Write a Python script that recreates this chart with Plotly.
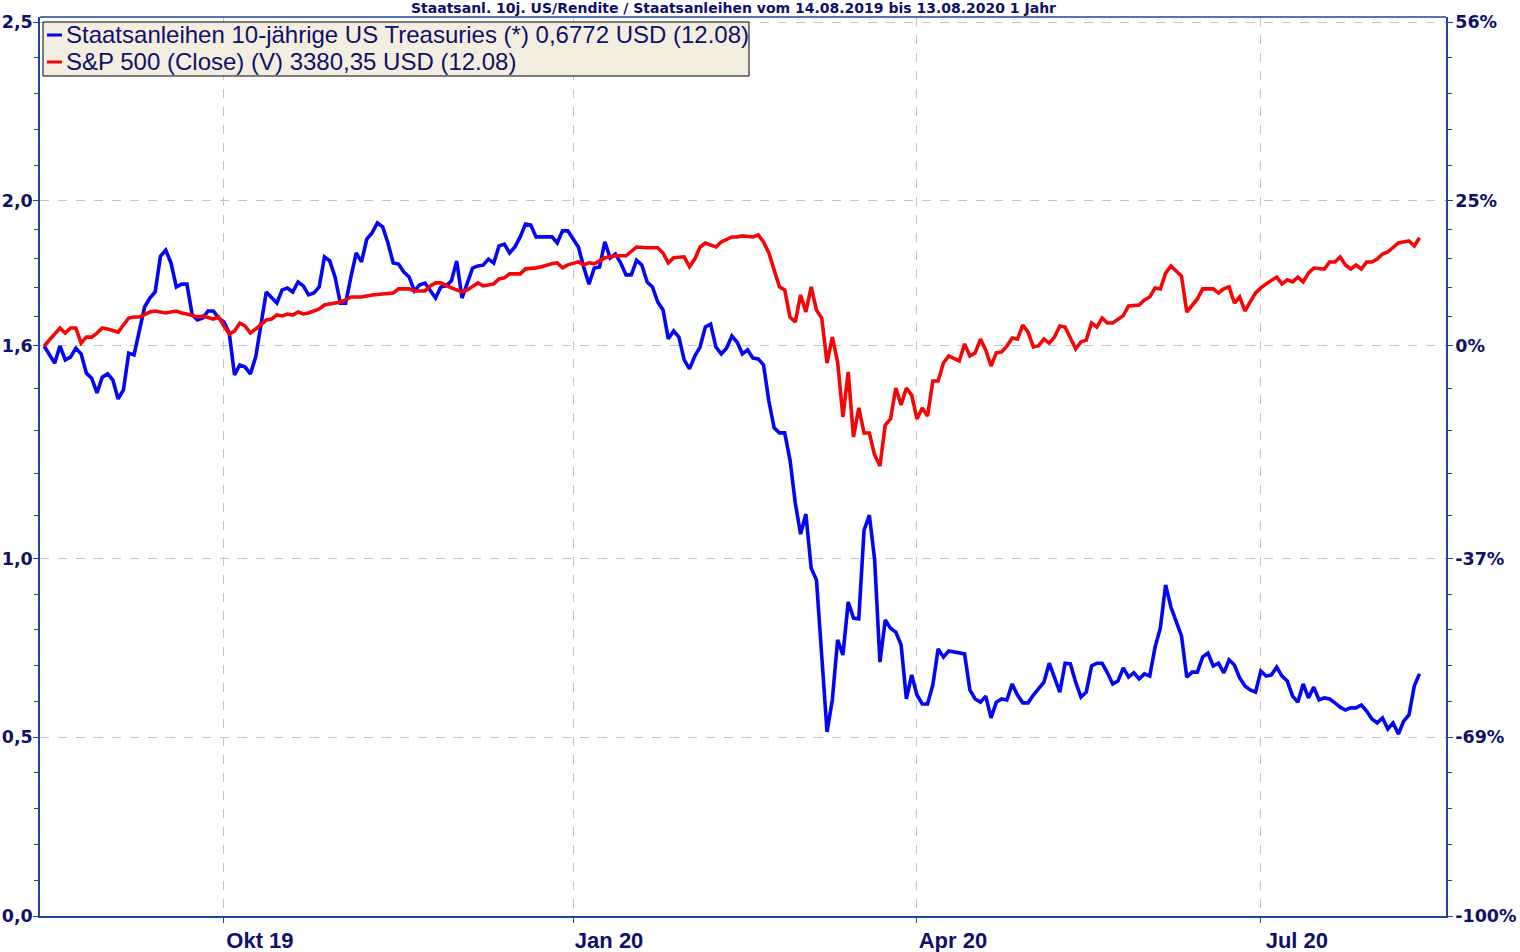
import numpy as np
import plotly.graph_objects as go

# ---------------- data ----------------
yield_dates = [
    "2019-08-14", "2019-08-16", "2019-08-19", "2019-08-20", "2019-08-21", "2019-08-22", "2019-08-23",
    "2019-08-26", "2019-08-27", "2019-08-28", "2019-08-29", "2019-08-30", "2019-09-02", "2019-09-03",
    "2019-09-04", "2019-09-05", "2019-09-06", "2019-09-09", "2019-09-10", "2019-09-11", "2019-09-12",
    "2019-09-13", "2019-09-16", "2019-09-17", "2019-09-18", "2019-09-19", "2019-09-20", "2019-09-23",
    "2019-09-24", "2019-09-25", "2019-09-26", "2019-09-27", "2019-09-30", "2019-10-01", "2019-10-02",
    "2019-10-03", "2019-10-04", "2019-10-07", "2019-10-08", "2019-10-09", "2019-10-10", "2019-10-11",
    "2019-10-15", "2019-10-16", "2019-10-17", "2019-10-18", "2019-10-21", "2019-10-22", "2019-10-23",
    "2019-10-24", "2019-10-25", "2019-10-28", "2019-10-29", "2019-10-30", "2019-10-31", "2019-11-01",
    "2019-11-04", "2019-11-05", "2019-11-06", "2019-11-07", "2019-11-08", "2019-11-11", "2019-11-12",
    "2019-11-13", "2019-11-14", "2019-11-15", "2019-11-18", "2019-11-19", "2019-11-20", "2019-11-21",
    "2019-11-22", "2019-11-25", "2019-11-26", "2019-11-27", "2019-11-28", "2019-11-29", "2019-12-02",
    "2019-12-03", "2019-12-04", "2019-12-05", "2019-12-06", "2019-12-09", "2019-12-10", "2019-12-11",
    "2019-12-12", "2019-12-13", "2019-12-16", "2019-12-17", "2019-12-18", "2019-12-19", "2019-12-20",
    "2019-12-23", "2019-12-24", "2019-12-26", "2019-12-27", "2019-12-30", "2019-12-31", "2020-01-02",
    "2020-01-03", "2020-01-06", "2020-01-07", "2020-01-08", "2020-01-09", "2020-01-10", "2020-01-13",
    "2020-01-14", "2020-01-15", "2020-01-16", "2020-01-17", "2020-01-20", "2020-01-21", "2020-01-22",
    "2020-01-23", "2020-01-24", "2020-01-27", "2020-01-28", "2020-01-29", "2020-01-30", "2020-01-31",
    "2020-02-03", "2020-02-04", "2020-02-05", "2020-02-06", "2020-02-07", "2020-02-10", "2020-02-11",
    "2020-02-12", "2020-02-13", "2020-02-14", "2020-02-17", "2020-02-18", "2020-02-19", "2020-02-20",
    "2020-02-21", "2020-02-24", "2020-02-25", "2020-02-26", "2020-02-27", "2020-02-28", "2020-03-02",
    "2020-03-03", "2020-03-04", "2020-03-05", "2020-03-06", "2020-03-09", "2020-03-10", "2020-03-11",
    "2020-03-12", "2020-03-13", "2020-03-16", "2020-03-17", "2020-03-18", "2020-03-19", "2020-03-20",
    "2020-03-23", "2020-03-24", "2020-03-25", "2020-03-26", "2020-03-27", "2020-03-30", "2020-03-31",
    "2020-04-01", "2020-04-02", "2020-04-03", "2020-04-06", "2020-04-07", "2020-04-08", "2020-04-09",
    "2020-04-10", "2020-04-13", "2020-04-14", "2020-04-15", "2020-04-16", "2020-04-17", "2020-04-20",
    "2020-04-21", "2020-04-22", "2020-04-23", "2020-04-24", "2020-04-27", "2020-04-28", "2020-04-29",
    "2020-04-30", "2020-05-01", "2020-05-04", "2020-05-05", "2020-05-06", "2020-05-07", "2020-05-08",
    "2020-05-11", "2020-05-12", "2020-05-13", "2020-05-14", "2020-05-15", "2020-05-18", "2020-05-19",
    "2020-05-20", "2020-05-21", "2020-05-22", "2020-05-25", "2020-05-26", "2020-05-27", "2020-05-28",
    "2020-05-29", "2020-06-01", "2020-06-02", "2020-06-03", "2020-06-04", "2020-06-05", "2020-06-08",
    "2020-06-09", "2020-06-10", "2020-06-11", "2020-06-12", "2020-06-15", "2020-06-16", "2020-06-17",
    "2020-06-18", "2020-06-19", "2020-06-22", "2020-06-23", "2020-06-24", "2020-06-25", "2020-06-26",
    "2020-06-29", "2020-06-30", "2020-07-01", "2020-07-02", "2020-07-03", "2020-07-06", "2020-07-07",
    "2020-07-08", "2020-07-09", "2020-07-10", "2020-07-13", "2020-07-14", "2020-07-15", "2020-07-16",
    "2020-07-17", "2020-07-20", "2020-07-21", "2020-07-22", "2020-07-23", "2020-07-24", "2020-07-27",
    "2020-07-28", "2020-07-29", "2020-07-30", "2020-07-31", "2020-08-03", "2020-08-04", "2020-08-05",
    "2020-08-06", "2020-08-07", "2020-08-10", "2020-08-11", "2020-08-12",
]
yield_values = [
    1.594, 1.546, 1.594, 1.555, 1.563, 1.588, 1.572,
    1.518, 1.504, 1.463, 1.507, 1.516, 1.499, 1.446,
    1.471, 1.574, 1.569, 1.639, 1.703, 1.728, 1.745,
    1.845, 1.862, 1.826, 1.759, 1.767, 1.767, 1.681,
    1.667, 1.672, 1.692, 1.692, 1.672, 1.661, 1.630,
    1.513, 1.541, 1.535, 1.516, 1.563, 1.647, 1.745,
    1.714, 1.751, 1.756, 1.745, 1.773, 1.762, 1.737,
    1.742, 1.759, 1.843, 1.832, 1.787, 1.714, 1.714,
    1.787, 1.854, 1.829, 1.893, 1.910, 1.938, 1.927,
    1.882, 1.826, 1.823, 1.801, 1.787, 1.748, 1.765,
    1.770, 1.748, 1.728, 1.759, 1.762, 1.776, 1.832,
    1.728, 1.770, 1.812, 1.818, 1.820, 1.837, 1.826,
    1.874, 1.879, 1.854, 1.871, 1.899, 1.935, 1.932,
    1.899, 1.899, 1.899, 1.882, 1.916, 1.916, 1.871,
    1.815, 1.767, 1.812, 1.815, 1.885, 1.840, 1.851,
    1.826, 1.793, 1.793, 1.834, 1.820, 1.773, 1.759,
    1.717, 1.695, 1.614, 1.636, 1.619, 1.555, 1.530,
    1.566, 1.591, 1.647, 1.655, 1.591, 1.572, 1.588,
    1.622, 1.605, 1.572, 1.583, 1.560, 1.558, 1.541,
    1.440, 1.365, 1.351, 1.351, 1.275, 1.155, 1.068,
    1.124, 0.973, 0.940, 0.720, 0.515, 0.604, 0.772,
    0.730, 0.878, 0.833, 0.831, 1.079, 1.121, 0.996,
    0.710, 0.828, 0.805, 0.794, 0.758, 0.607, 0.674,
    0.618, 0.593, 0.593, 0.646, 0.747, 0.724, 0.741,
    0.738, 0.735, 0.733, 0.632, 0.607, 0.598, 0.615,
    0.554, 0.598, 0.607, 0.604, 0.649, 0.618, 0.596,
    0.596, 0.618, 0.638, 0.654, 0.707, 0.666, 0.626,
    0.707, 0.705, 0.654, 0.612, 0.626, 0.699, 0.707,
    0.707, 0.680, 0.649, 0.657, 0.694, 0.668, 0.680,
    0.663, 0.677, 0.671, 0.752, 0.805, 0.926, 0.864,
    0.822, 0.783, 0.668, 0.682, 0.682, 0.724, 0.735,
    0.699, 0.707, 0.680, 0.716, 0.702, 0.666, 0.643,
    0.632, 0.626, 0.685, 0.671, 0.674, 0.696, 0.671,
    0.657, 0.615, 0.598, 0.649, 0.610, 0.640, 0.604,
    0.610, 0.607, 0.596, 0.584, 0.576, 0.582, 0.582,
    0.590, 0.573, 0.551, 0.540, 0.554, 0.523, 0.540,
    0.509, 0.545, 0.562, 0.643, 0.6772,
]

spx_dates = [
    "2019-08-14", "2019-08-15", "2019-08-16", "2019-08-19", "2019-08-20", "2019-08-21", "2019-08-22",
    "2019-08-23", "2019-08-26", "2019-08-27", "2019-08-28", "2019-08-29", "2019-08-30", "2019-09-03",
    "2019-09-04", "2019-09-05", "2019-09-06", "2019-09-09", "2019-09-11", "2019-09-12", "2019-09-16",
    "2019-09-17", "2019-09-18", "2019-09-19", "2019-09-20", "2019-09-24", "2019-09-25", "2019-09-27",
    "2019-09-30", "2019-10-01", "2019-10-02", "2019-10-03", "2019-10-04", "2019-10-07", "2019-10-08",
    "2019-10-09", "2019-10-10", "2019-10-11", "2019-10-14", "2019-10-15", "2019-10-16", "2019-10-17",
    "2019-10-18", "2019-10-21", "2019-10-22", "2019-10-23", "2019-10-25", "2019-10-28", "2019-10-29",
    "2019-10-31", "2019-11-01", "2019-11-04", "2019-11-06", "2019-11-08", "2019-11-12", "2019-11-14",
    "2019-11-15", "2019-11-19", "2019-11-20", "2019-11-22", "2019-11-25", "2019-11-26", "2019-11-27",
    "2019-11-29", "2019-12-03", "2019-12-04", "2019-12-06", "2019-12-09", "2019-12-11", "2019-12-12",
    "2019-12-13", "2019-12-16", "2019-12-18", "2019-12-19", "2019-12-23", "2019-12-24", "2019-12-26",
    "2019-12-27", "2019-12-30", "2019-12-31", "2020-01-02", "2020-01-03", "2020-01-06", "2020-01-07",
    "2020-01-09", "2020-01-10", "2020-01-13", "2020-01-15", "2020-01-17", "2020-01-21", "2020-01-23",
    "2020-01-24", "2020-01-27", "2020-01-28", "2020-01-30", "2020-01-31", "2020-02-03", "2020-02-04",
    "2020-02-05", "2020-02-07", "2020-02-10", "2020-02-12", "2020-02-13", "2020-02-14", "2020-02-18",
    "2020-02-19", "2020-02-20", "2020-02-21", "2020-02-24", "2020-02-25", "2020-02-26", "2020-02-27",
    "2020-02-28", "2020-03-02", "2020-03-03", "2020-03-04", "2020-03-05", "2020-03-06", "2020-03-09",
    "2020-03-10", "2020-03-11", "2020-03-12", "2020-03-13", "2020-03-16", "2020-03-17", "2020-03-18",
    "2020-03-19", "2020-03-20", "2020-03-23", "2020-03-24", "2020-03-25", "2020-03-26", "2020-03-27",
    "2020-03-30", "2020-03-31", "2020-04-01", "2020-04-02", "2020-04-03", "2020-04-06", "2020-04-07",
    "2020-04-08", "2020-04-09", "2020-04-13", "2020-04-14", "2020-04-15", "2020-04-16", "2020-04-17",
    "2020-04-20", "2020-04-21", "2020-04-22", "2020-04-23", "2020-04-24", "2020-04-27", "2020-04-28",
    "2020-04-29", "2020-04-30", "2020-05-01", "2020-05-04", "2020-05-05", "2020-05-06", "2020-05-07",
    "2020-05-08", "2020-05-11", "2020-05-12", "2020-05-13", "2020-05-14", "2020-05-15", "2020-05-18",
    "2020-05-19", "2020-05-20", "2020-05-21", "2020-05-22", "2020-05-26", "2020-05-27", "2020-05-29",
    "2020-06-01", "2020-06-02", "2020-06-03", "2020-06-04", "2020-06-05", "2020-06-08", "2020-06-09",
    "2020-06-10", "2020-06-11", "2020-06-12", "2020-06-15", "2020-06-16", "2020-06-18", "2020-06-19",
    "2020-06-22", "2020-06-23", "2020-06-24", "2020-06-25", "2020-06-26", "2020-06-29", "2020-06-30",
    "2020-07-01", "2020-07-02", "2020-07-06", "2020-07-07", "2020-07-08", "2020-07-09", "2020-07-10",
    "2020-07-13", "2020-07-14", "2020-07-15", "2020-07-17", "2020-07-20", "2020-07-21", "2020-07-22",
    "2020-07-23", "2020-07-24", "2020-07-27", "2020-07-28", "2020-07-29", "2020-07-30", "2020-07-31",
    "2020-08-03", "2020-08-04", "2020-08-05", "2020-08-06", "2020-08-10", "2020-08-11", "2020-08-12",
]
spx_close = [
    2840.6, 2870, 2905, 2930, 2905, 2930, 2930,
    2855, 2885, 2885, 2905, 2930, 2925, 2910,
    2945, 2980, 2985, 2985, 3010, 3015, 3005,
    3010, 3015, 3005, 3000, 2985, 2990, 2975,
    2985, 2940, 2900, 2915, 2955, 2940, 2905,
    2925, 2945, 2970, 2975, 2995, 2990, 3000,
    2995, 3010, 3000, 3005, 3025, 3045, 3050,
    3060, 3070, 3085, 3085, 3095, 3100, 3105,
    3125, 3125, 3115, 3115, 3140, 3155, 3155,
    3130, 3110, 3120, 3155, 3140, 3150, 3175,
    3180, 3200, 3200, 3225, 3230, 3235, 3250,
    3255, 3230, 3245, 3260, 3245, 3255, 3250,
    3280, 3285, 3290, 3290, 3334, 3330, 3330,
    3304, 3255, 3280, 3285, 3235, 3274, 3334,
    3354, 3334, 3359, 3384, 3384, 3389, 3384,
    3394, 3359, 3304, 3219, 3135, 3120, 2985,
    2960, 3095, 3010, 3135, 3020, 2980, 2756,
    2885, 2761, 2487, 2711, 2387, 2532, 2407,
    2407, 2297, 2243, 2447, 2477, 2631, 2547,
    2631, 2596, 2477, 2532, 2492, 2666, 2666,
    2756, 2791, 2766, 2851, 2791, 2806, 2875,
    2821, 2741, 2806, 2811, 2840, 2880, 2875,
    2945, 2910, 2836, 2842, 2875, 2855, 2885,
    2940, 2935, 2880, 2826, 2861, 2870, 2955,
    2935, 2980, 2955, 2955, 2992, 3040, 3045,
    3070, 3085, 3130, 3125, 3204, 3239, 3214,
    3189, 3010, 3040, 3075, 3125, 3125, 3105,
    3125, 3135, 3055, 3085, 3015, 3060, 3105,
    3130, 3150, 3184, 3150, 3170, 3160, 3184,
    3160, 3204, 3229, 3224, 3259, 3259, 3284,
    3244, 3224, 3244, 3224, 3259, 3259, 3274,
    3299, 3309, 3329, 3354, 3364, 3339, 3380.35,
]

left_tick_labels = ["0,0", "0,5", "1,0", "1,6", "2,0", "2,5"]
right_tick_labels = ["-100%", "-69%", "-37%", "0%", "25%", "56%"]
month_ticks = ["2019-10-01", "2020-01-01", "2020-04-01", "2020-07-01"]
month_labels = ["Okt 19", "Jan 20", "Apr 20", "Jul 20"]

title_text = "Staatsanl. 10j. US/Rendite / Staatsanleihen vom 14.08.2019 bis 13.08.2020 1 Jahr"
legend_labels = [
    "Staatsanleihen 10-jährige US Treasuries (*) 0,6772 USD (12.08)",
    "S&P 500 (Close) (V) 3380,35 USD (12.08)",
]

# ---------------- derived scales ----------------
ref = yield_values[0]                     # start value = 0 % line
left_ticks = [0.0, 0.5, 1.0, ref, 2.0, 2.5]
y_top = 2.514
spx_pct = [(c / spx_close[0] - 1.0) * 100.0 for c in spx_close]

def to_pct(v):
    return (v / ref - 1.0) * 100.0

minor_left = []
for a, b in zip(left_ticks[:-1], left_ticks[1:]):
    minor_left.extend(list(np.linspace(a, b, 6)[1:-1]))
right_ticks = [to_pct(v) for v in left_ticks]
minor_right = [to_pct(v) for v in minor_left]

W, H = 1520, 952
L, R, T, B = 40, 1446, 17, 916
PW, PH = R - L, B - T

def px(xp):
    return (xp - L) / PW

def py(yp):
    return (B - yp) / PH

NAVY = "#10106a"
AXIS = "#1f4596"
GRID = "#c4c4c4"
BLUE = "#0505f5"
RED = "#f50505"

fig = go.Figure()
fig.add_trace(go.Scatter(
    x=yield_dates, y=yield_values, mode="lines", name=legend_labels[0],
    line=dict(color=BLUE, width=3.6), yaxis="y", showlegend=False,
))
fig.add_trace(go.Scatter(
    x=spx_dates, y=spx_pct, mode="lines", name=legend_labels[1],
    line=dict(color=RED, width=3.6), yaxis="y2", showlegend=False,
))

tick_font = dict(family="DejaVu Sans", size=17.5, color=NAVY, weight="bold")

fig.update_layout(
    width=W, height=H,
    margin=dict(l=L, r=W - R, t=T, b=H - B, pad=0, autoexpand=False),
    paper_bgcolor="white", plot_bgcolor="white",
    xaxis=dict(
        type="date", automargin=False,
        range=["2019-08-13 05:30", "2020-08-19"],
        rangebreaks=[dict(bounds=["sat", "mon"])],
        tickmode="array", tickvals=month_ticks, ticktext=month_labels,
        ticklabelshift=36, ticklabelstandoff=-1,
        tickfont=dict(family="Liberation Sans", size=22, color=NAVY, weight="bold"),
        showgrid=True, gridcolor=GRID, griddash="dash", gridwidth=1,
        ticks="outside", ticklen=5, tickcolor=AXIS,
        showline=True, linecolor=AXIS, linewidth=1.5,
        zeroline=False, mirror=False,
    ),
    yaxis=dict(
        automargin=False,
        range=[0, y_top],
        tickmode="array", tickvals=left_ticks, ticktext=left_tick_labels,
        tickfont=tick_font, ticklabelstandoff=-3,
        showgrid=True, gridcolor=GRID, griddash="dash", gridwidth=1,
        ticks="outside", ticklen=5, tickcolor=AXIS,
        minor=dict(tickmode="array", tickvals=minor_left, ticks="outside",
                   ticklen=4, tickcolor=AXIS, showgrid=False),
        showline=True, linecolor=AXIS, linewidth=1.5, zeroline=False,
    ),
    yaxis2=dict(
        automargin=False,
        overlaying="y", side="right",
        range=[to_pct(0.0), to_pct(y_top)],
        tickmode="array", tickvals=right_ticks, ticktext=right_tick_labels,
        tickfont=tick_font, ticklabelstandoff=-1,
        showgrid=False,
        ticks="outside", ticklen=5, tickcolor=AXIS,
        minor=dict(tickmode="array", tickvals=minor_right, ticks="outside",
                   ticklen=4, tickcolor=AXIS, showgrid=False),
        showline=True, linecolor=AXIS, linewidth=1.5, zeroline=False,
    ),
    showlegend=False,
)

# top border of plot frame
fig.add_shape(type="line", xref="paper", yref="paper", x0=0, x1=1, y0=1, y1=1,
              line=dict(color=AXIS, width=1.5))

# title
fig.add_annotation(text=title_text, xref="paper", yref="paper",
                   x=px(733), y=py(8), xanchor="center", yanchor="middle",
                   showarrow=False,
                   font=dict(family="DejaVu Sans", size=14, color=NAVY, weight="bold"))

# legend box
fig.add_shape(type="rect", xref="paper", yref="paper",
              x0=px(43), x1=px(749), y0=py(76), y1=py(22),
              fillcolor="#f4eee0", line=dict(color="black", width=1), layer="above")
for i, (lbl, col) in enumerate(zip(legend_labels, [BLUE, RED])):
    yc = 35 + 27 * i
    fig.add_shape(type="line", xref="paper", yref="paper",
                  x0=px(47), x1=px(62), y0=py(yc), y1=py(yc),
                  line=dict(color=col, width=3), layer="above")
    fig.add_annotation(text=lbl, xref="paper", yref="paper",
                       x=px(64), y=py(yc), xanchor="left", yanchor="middle",
                       showarrow=False,
                       font=dict(family="Liberation Sans", size=24, color=NAVY))

fig.write_html(
    "out.html",
    config={"displayModeBar": False},
    post_script="document.body.style.margin='0';document.body.style.overflow='hidden';",
)
